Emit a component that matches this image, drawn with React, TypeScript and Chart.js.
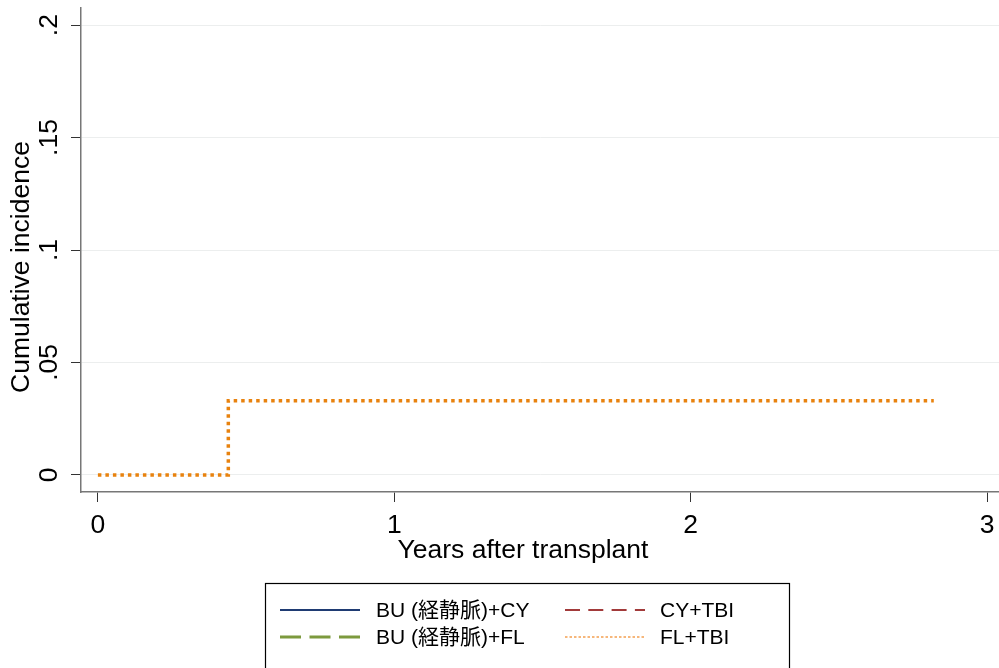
import React, { useEffect, useRef } from "react";
import { Chart, registerables } from "chart.js";

Chart.register(...registerables);

// ---- data ----
const seriesNames = ["BU (経静脈)+CY", "CY+TBI", "BU (経静脈)+FL", "FL+TBI"];
const buCyYears: number[] = [];
const buCyIncidence: number[] = [];
const cyTbiYears: number[] = [];
const cyTbiIncidence: number[] = [];
const buFlYears: number[] = [];
const buFlIncidence: number[] = [];
const flTbiYears = [0, 0.44, 2.82];
const flTbiIncidence = [0, 0.033, 0.033];
const xTicks = [0, 1, 2, 3];
const xTickLabels = ["0", "1", "2", "3"];
const yTicks = [0, 0.05, 0.1, 0.15, 0.2];
const yTickLabels = ["0", ".05", ".1", ".15", ".2"];
const xTitle = "Years after transplant";
const yTitle = "Cumulative incidence";

const FONT = "'Liberation Sans', Arial, Helvetica, 'Noto Sans CJK JP', sans-serif";
const colors = {
  buCy: "#1f3b73",
  cyTbi: "#a23a3a",
  buFl: "#7d9a3e",
  flTbi: "#f4a050",
  flTbiPlot: "#e8820e",
};

const pts = (xs: number[], ys: number[]) => xs.map((x, i) => ({ x, y: ys[i] }));

const legendItems = [
  { name: seriesNames[0], color: colors.buCy, dash: [] as number[], width: 2, col: 0, row: 0 },
  { name: seriesNames[1], color: colors.cyTbi, dash: [15, 8.3], width: 2, col: 1, row: 0 },
  { name: seriesNames[2], color: colors.buFl, dash: [21, 8.5], width: 3, col: 0, row: 1 },
  { name: seriesNames[3], color: colors.flTbi, dash: [2.5, 2], width: 1.5, col: 1, row: 1 },
];

const legendPlugin = {
  id: "boxLegend",
  afterDraw(chart: any) {
    const ctx = chart.ctx as CanvasRenderingContext2D;
    ctx.save();
    // axis titles
    ctx.fillStyle = "#000";
    ctx.font = `26.5px ${FONT}`;
    ctx.textAlign = "center";
    ctx.textBaseline = "middle";
    ctx.fillText(xTitle, 523, 551);
    ctx.save();
    ctx.translate(22, 267);
    ctx.rotate(-Math.PI / 2);
    ctx.fillText(yTitle, 0, 0);
    ctx.restore();

    // legend box
    ctx.strokeStyle = "#000";
    ctx.lineWidth = 1.2;
    ctx.setLineDash([]);
    ctx.strokeRect(265.5, 583.5, 524, 100);
    const colSample = [280, 565];
    const colText = [376, 660];
    const rowY = [610, 637];
    ctx.font = `21px ${FONT}`;
    ctx.textBaseline = "middle";
    ctx.textAlign = "left";
    for (const it of legendItems) {
      const y = rowY[it.row];
      ctx.beginPath();
      ctx.strokeStyle = it.color;
      ctx.lineWidth = it.width;
      ctx.setLineDash(it.dash);
      ctx.moveTo(colSample[it.col], y);
      ctx.lineTo(colSample[it.col] + 80, y);
      ctx.stroke();
      ctx.setLineDash([]);
      ctx.fillText(it.name, colText[it.col], y + 1);
    }
    ctx.restore();
  },
};

export default function App() {
  const ref = useRef<HTMLCanvasElement | null>(null);
  useEffect(() => {
    if (!ref.current) return;
    const tickFont = { family: FONT, size: 26.5 };
    const chart = new Chart(ref.current, {
      type: "line",
      data: {
        datasets: [
          { label: seriesNames[0], data: pts(buCyYears, buCyIncidence), borderColor: colors.buCy, pointRadius: 0 },
          { label: seriesNames[1], data: pts(cyTbiYears, cyTbiIncidence), borderColor: colors.cyTbi, pointRadius: 0 },
          { label: seriesNames[2], data: pts(buFlYears, buFlIncidence), borderColor: colors.buFl, pointRadius: 0 },
          {
            label: seriesNames[3],
            data: pts(flTbiYears, flTbiIncidence),
            borderColor: colors.flTbiPlot,
            borderWidth: 3.5,
            borderDash: [3.5, 4],
            borderCapStyle: "butt",
            stepped: "before",
            pointRadius: 0,
            fill: false,
          },
        ],
      },
      options: {
        animation: false,
        responsive: false,
        maintainAspectRatio: false,
        layout: { padding: { left: 0, right: 0, top: 8, bottom: 101 } },
        plugins: { legend: { display: false }, tooltip: { enabled: false } },
        scales: {
          x: {
            type: "linear",
            min: -0.057,
            max: 3.04,
            afterBuildTicks: (s: any) => {
              s.ticks = xTicks.map((v) => ({ value: v }));
            },
            afterFit: (s: any) => {
              s.height = 75;
              s.paddingLeft = 0;
              s.paddingRight = 0;
            },
            grid: { drawOnChartArea: false, tickLength: 10, tickColor: "#333", tickWidth: 1 },
            border: { color: "#777", width: 1.5 },
            ticks: {
              font: tickFont,
              color: "#000",
              padding: 8,
              maxRotation: 0,
              callback: (v: any) => xTickLabels[xTicks.indexOf(Number(v))] ?? "",
            },
            title: { display: false },
          },
          y: {
            type: "linear",
            min: -0.0076,
            max: 0.2076,
            afterBuildTicks: (s: any) => {
              s.ticks = yTicks.map((v) => ({ value: v }));
            },
            afterFit: (s: any) => {
              s.width = 81;
              s.paddingTop = 0;
              s.paddingBottom = 0;
            },
            grid: { color: "#eceeee", lineWidth: 1, tickLength: 10, tickColor: "#333", tickWidth: 1 },
            border: { color: "#777", width: 1.5 },
            ticks: {
              font: tickFont,
              color: "#000",
              padding: 3,
              minRotation: 90,
              maxRotation: 90,
              crossAlign: "center",
              callback: (v: any) => yTickLabels[yTicks.indexOf(Number(v))] ?? "",
            },
            title: { display: false },
          },
        },
      },
      plugins: [legendPlugin],
    } as any);
    return () => chart.destroy();
  }, []);
  return (
    <div style={{ position: "fixed", left: 0, top: 0, width: 999, height: 668, background: "#fff" }}>
      <canvas ref={ref} width={999} height={668} style={{ display: "block" }} />
    </div>
  );
}
